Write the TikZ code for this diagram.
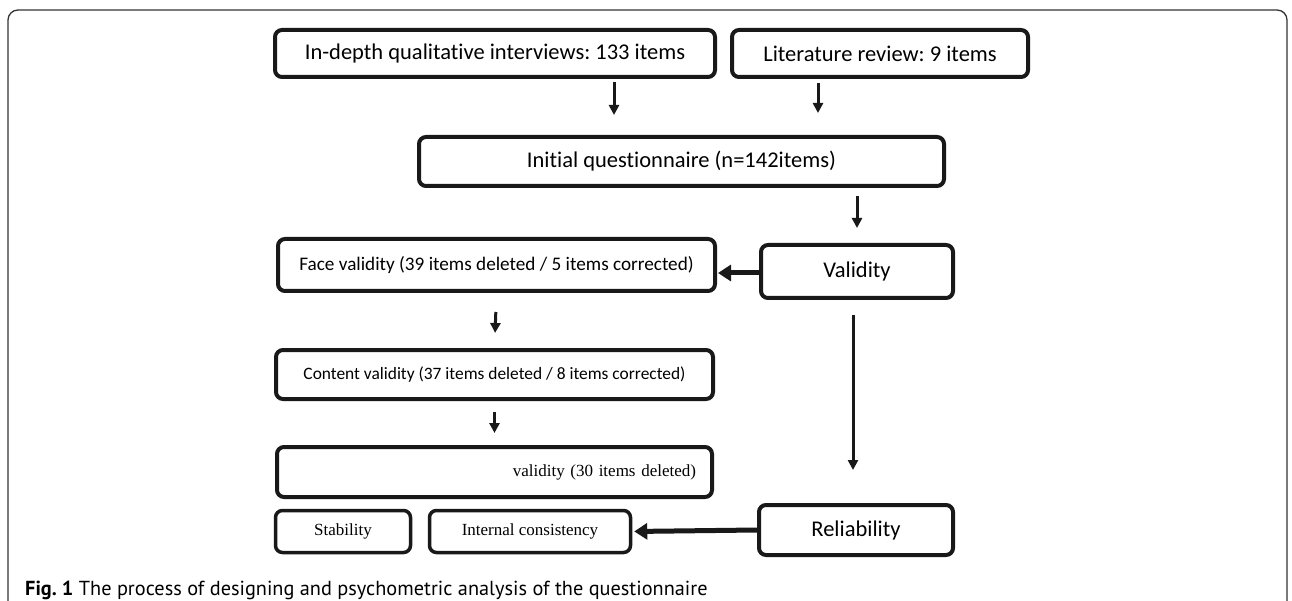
\documentclass[tikz,border=0pt]{standalone}
\usepackage{fontspec}
\setmainfont{Carlito}[Ligatures=CommonOff]
\newfontfamily\timesfont{Liberation Serif}
\newfontfamily\capfont{PT Sans}
\usetikzlibrary{arrows.meta}
\frenchspacing

\begin{document}
\begin{tikzpicture}[x=1pt,y=-1pt,
    box/.style={draw=black!90, line width=4pt, rounded corners=7pt, inner sep=0pt, font=\fontsize{22.5}{26}\selectfont},
    smallbox/.style={box, line width=3.5pt, font=\timesfont\fontsize{17}{20}\selectfont},
    arr/.style={draw=black!90, line width=3pt, -{Triangle[width=10pt,length=10pt]}},
    harr/.style={draw=black!90, line width=5pt, -{Triangle[width=16pt,length=13pt]}}]
    \useasboundingbox (0,0) rectangle (1292,601);
    % frame of the figure
    \draw[black!80, line width=1.3pt, rounded corners=10pt] (8,610) -- (8,10) -- (1287,10) -- (1287,610);

    \node[box, minimum width=440, minimum height=47] (intv) at (495,53.5) {In-depth qualitative interviews: 133 items};
    \node[box, minimum width=296, minimum height=47] (lit) at (880,53.5) {Literature review: 9 items};
    \node[box, minimum width=525, minimum height=49] (init) at (681.5,161.5) {Initial questionnaire (n=142items)};
    \node[box, minimum width=192, minimum height=53] (valid) at (857,271.5) {Validity};
    \node[box, minimum width=437, minimum height=52, font=\fontsize{19.2}{22}\selectfont] (face) at (496.5,265) {Face validity (39 items deleted / 5 items corrected)};
    \node[box, minimum width=437, minimum height=49, font=\fontsize{17.4}{20}\selectfont] (content) at (494.5,374.5) {Content validity (37 items deleted / 8 items corrected)};
    \node[box, minimum height=50, text width=403, inner xsep=16pt, align=right, font=\timesfont\fontsize{17}{20}\selectfont] (vdel) at (494.5,472) {validity (30 items deleted)};
    \node[box, minimum width=194, minimum height=50] (reli) at (856,530) {Reliability};
    \node[smallbox, minimum width=135, minimum height=42] (stab) at (343,531.5) {Stability};
    \node[smallbox, minimum width=201, minimum height=42] (intc) at (530,531.5) {Internal consistency};

    \coordinate (a1) at (614,0);
    \coordinate (a2) at (818,0);
    \coordinate (a3) at (853,0);

    \draw[arr, shorten <=3pt, shorten >=20pt] (intv.south -| a1) -- (init.north -| a1);
    \draw[arr, shorten <=4pt, shorten >=22pt] (lit.south -| a2) -- (init.north -| a2);
    \draw[arr, shorten <=8pt, shorten >=15pt] (init.south -| valid) -- (valid.north);
    \draw[harr, shorten >=1pt] ([yshift=-1.5pt]valid.west) -- ([yshift=-1.5pt]valid.west -| face.east);
    \draw[arr, shorten <=19pt, shorten >=15pt] (face.south) -- (content.north);
    \draw[arr, shorten <=11pt, shorten >=12pt] (content.south) -- (vdel.north);
    \draw[arr, shorten <=15pt, shorten >=33pt] (valid.south -| a3) -- (reli.north -| a3);
    \draw[harr, shorten >=2pt] (reli.west) -- (intc.east);

    \node[anchor=west, inner sep=0pt, font=\capfont\fontsize{20.3}{24}\selectfont] (cap) at (25,590) {\textbf{Fig. 1} The process of designing and psychometric analysis of the questionnaire};
\end{tikzpicture}
\end{document}
